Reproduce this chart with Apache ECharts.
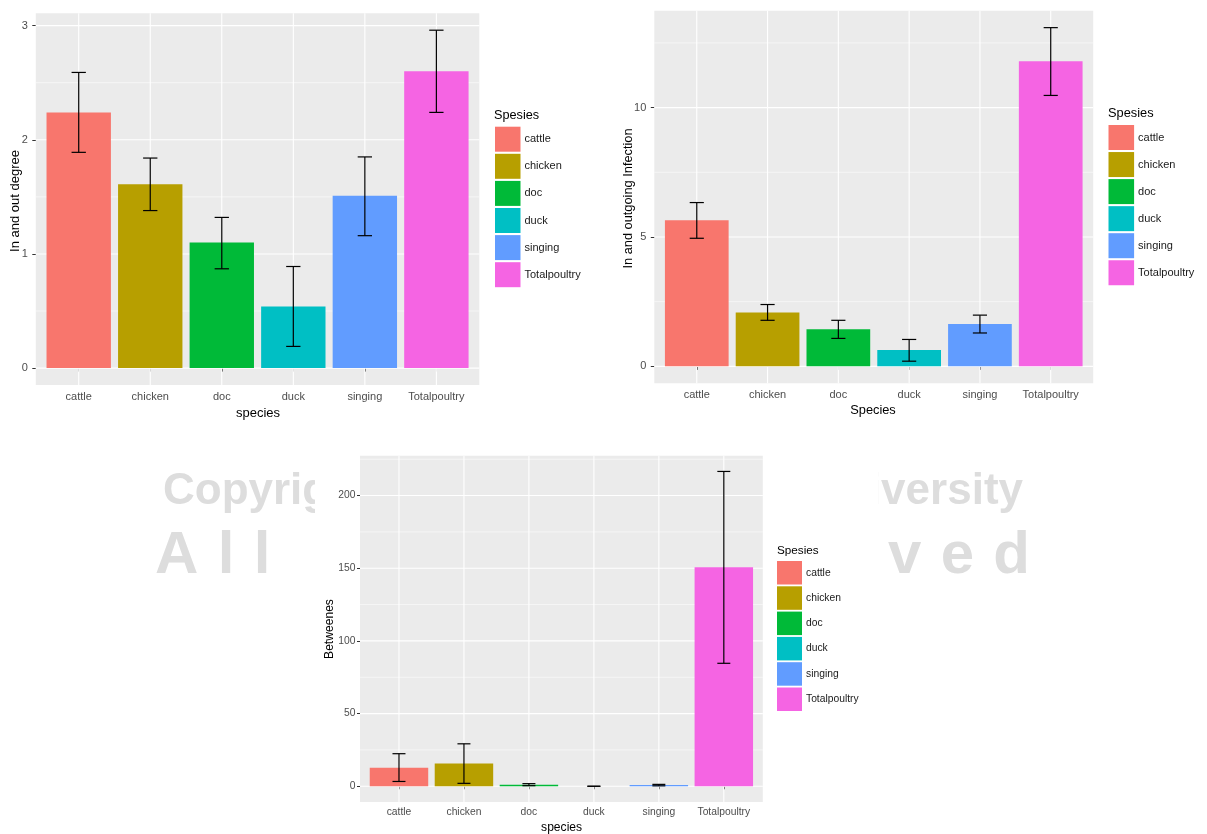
<!DOCTYPE html>
<html>
<head>
<meta charset="utf-8">
<script src="https://cdn.jsdelivr.net/npm/echarts@6/dist/echarts.min.js"></script>
<style>
  html, body { margin: 0; padding: 0; background: #ffffff; }
  #c { width: 1207px; height: 834px; }
</style>
</head>
<body>
<div id="c"></div>
<script>
// Species shared by all three panels, with the default ggplot hue palette
const species = ['cattle', 'chicken', 'doc', 'duck', 'singing', 'Totalpoultry'];
const speciesColors = ['#F8766D', '#B79F00', '#00BA38', '#00BFC4', '#619CFF', '#F564E3'];

// Panel 1: in and out degree (mean with error range)
const degreeMean = [2.24, 1.61, 1.10, 0.54, 1.51, 2.60];
const degreeLow  = [1.89, 1.38, 0.87, 0.19, 1.16, 2.24];
const degreeHigh = [2.59, 1.84, 1.32, 0.89, 1.85, 2.96];
const degreeTicks = [0, 1, 2, 3];

// Panel 2: in and outgoing infection
const infectionMean = [5.65, 2.08, 1.43, 0.63, 1.64, 11.79];
const infectionLow  = [4.95, 1.78, 1.08, 0.20, 1.29, 10.47];
const infectionHigh = [6.33, 2.39, 1.78, 1.04, 1.98, 13.09];
const infectionTicks = [0, 5, 10];

// Panel 3: betweenness
const betweenMean = [12.8, 15.6, 1.1, 0, 0.8, 150.6];
const betweenLow  = [3.3, 2.0, 0.4, 0, 0.3, 84.6];
const betweenHigh = [22.4, 29.2, 1.8, 0, 1.3, 216.6];
const betweenTicks = [0, 50, 100, 150, 200];

const FONT = '"Liberation Sans", Arial, sans-serif';
const xPositions = species.map((_, i) => i + 1);
const X_MIN = 0.4, X_MAX = 6.6;     // discrete scale with 0.6 padding on each side
const BAR_HALF = 0.45;              // bar width 0.9
const CAP_HALF = 0.1;               // error bar cap width 0.2

const panels = [
  {
    mean: degreeMean, low: degreeLow, high: degreeHigh, ticks: degreeTicks,
    yTitle: 'In and out degree', xTitle: 'species',
    grid: { left: 35.8, top: 13.3, width: 443.5, height: 371.7 },
    yTitleAt: [15, 201], xTitleAt: [258, 413], titleSize: 13, tickSize: 11,
    legendAt: [495, 126.7], keyW: 25.5, keyH: 25, keyGap: 2.1,
    legendTitleAt: [494, 115], legendTitleSize: 12.7, legendSize: 11,
    tickLen: 3.5, yLabelMargin: 8, xLabelMargin: 6
  },
  {
    mean: infectionMean, low: infectionLow, high: infectionHigh, ticks: infectionTicks,
    yTitle: 'In and outgoing Infection', xTitle: 'Species',
    grid: { left: 654.3, top: 10.7, width: 438.9, height: 372.6 },
    yTitleAt: [628.3, 198.5], xTitleAt: [873, 410.7], titleSize: 12.8, tickSize: 11,
    legendAt: [1108.5, 125], keyW: 25.6, keyH: 25, keyGap: 2.05,
    legendTitleAt: [1108, 113], legendTitleSize: 12.8, legendSize: 11,
    tickLen: 3.5, yLabelMargin: 8, xLabelMargin: 6
  },
  {
    mean: betweenMean, low: betweenLow, high: betweenHigh, ticks: betweenTicks,
    yTitle: 'Betweenes', xTitle: 'species',
    grid: { left: 360, top: 455.7, width: 402.8, height: 346.3 },
    yTitleAt: [330, 629], xTitleAt: [561.6, 827.7], titleSize: 12.1, tickSize: 10.3,
    legendAt: [777, 561], keyW: 25, keyH: 23.5, keyGap: 1.8,
    legendTitleAt: [777, 550.5], legendTitleSize: 11.7, legendSize: 10.3,
    tickLen: 3, yLabelMargin: 4.5, xLabelMargin: 5.5
  }
];

const grids = [], xAxes = [], yAxes = [], series = [], legends = [], texts = [];

panels.forEach((p, pi) => {
  // y range: data from 0 up to the highest error bar, expanded by 5% each way
  const top = Math.max(...p.high);
  const pad = 0.05 * top;
  const yMin = -pad, yMax = top + pad;
  const step = p.ticks[1] - p.ticks[0];
  const minor = p.ticks.map(t => t + step / 2).filter(v => v < yMax);

  grids.push(Object.assign({ show: true, backgroundColor: '#EBEBEB', borderWidth: 0 }, p.grid));

  xAxes.push({
    type: 'value', gridIndex: pi, min: X_MIN, max: X_MAX,
    axisLine: { show: false }, splitLine: { show: false },
    axisTick: { show: true, customValues: xPositions, length: p.tickLen, lineStyle: { color: '#333333', width: 1 } },
    axisLabel: {
      customValues: xPositions, margin: p.xLabelMargin,
      formatter: v => species[Math.round(v) - 1],
      color: '#4D4D4D', fontSize: p.tickSize, fontFamily: FONT
    }
  });

  yAxes.push({
    type: 'value', gridIndex: pi, min: yMin, max: yMax,
    axisLine: { show: false }, splitLine: { show: false },
    axisTick: { show: true, customValues: p.ticks, length: p.tickLen, lineStyle: { color: '#333333', width: 1 } },
    axisLabel: { customValues: p.ticks, margin: p.yLabelMargin, color: '#4D4D4D', fontSize: p.tickSize, fontFamily: FONT }
  });

  // panel grid lines: 0 = major horizontal, 1 = minor horizontal, 2 = vertical at each species
  const lines = [
    ...p.ticks.map(v => [0, v]),
    ...minor.map(v => [1, v]),
    ...xPositions.map(x => [2, x])
  ];
  series.push({
    type: 'custom', name: 'gridlines-' + pi, xAxisIndex: pi, yAxisIndex: pi, z: 1, silent: true,
    data: lines,
    renderItem(params, api) {
      const kind = api.value(0), v = api.value(1);
      const cs = params.coordSys;
      if (kind === 2) {
        const x = api.coord([v, 0])[0];
        return { type: 'line', shape: { x1: x, y1: cs.y, x2: x, y2: cs.y + cs.height },
                 style: { stroke: '#FFFFFF', lineWidth: 1.1 } };
      }
      const y = api.coord([1, v])[1];
      return { type: 'line', shape: { x1: cs.x, y1: y, x2: cs.x + cs.width, y2: y },
               style: { stroke: '#FFFFFF', lineWidth: kind === 0 ? 1.1 : 0.55 } };
    }
  });

  // one bar series per species so the legend can list them
  species.forEach((name, j) => {
    series.push({
      type: 'custom', name, xAxisIndex: pi, yAxisIndex: pi, z: 2,
      itemStyle: { color: speciesColors[j] },
      data: [[xPositions[j], p.mean[j]]],
      renderItem(params, api) {
        const x = api.value(0), v = api.value(1);
        const a = api.coord([x - BAR_HALF, v]);
        const b = api.coord([x + BAR_HALF, 0]);
        return { type: 'rect',
                 shape: { x: a[0], y: Math.min(a[1], b[1]), width: b[0] - a[0], height: Math.abs(b[1] - a[1]) },
                 style: { fill: api.visual('color') } };
      }
    });
  });

  // error bars
  series.push({
    type: 'custom', name: 'errorbars-' + pi, xAxisIndex: pi, yAxisIndex: pi, z: 3, silent: true,
    data: species.map((_, j) => [xPositions[j], p.low[j], p.high[j]]),
    renderItem(params, api) {
      const x = api.value(0);
      const lo = api.coord([x, api.value(1)]);
      const hi = api.coord([x, api.value(2)]);
      const l = api.coord([x - CAP_HALF, 0])[0];
      const r = api.coord([x + CAP_HALF, 0])[0];
      const st = { stroke: '#000000', lineWidth: 1.2 };
      return { type: 'group', children: [
        { type: 'line', shape: { x1: lo[0], y1: lo[1], x2: hi[0], y2: hi[1] }, style: st },
        { type: 'line', shape: { x1: l, y1: hi[1], x2: r, y2: hi[1] }, style: st },
        { type: 'line', shape: { x1: l, y1: lo[1], x2: r, y2: lo[1] }, style: st }
      ] };
    }
  });

  legends.push({
    orient: 'vertical', left: p.legendAt[0], top: p.legendAt[1], padding: 0,
    itemWidth: p.keyW, itemHeight: p.keyH, itemGap: p.keyGap, icon: 'rect',
    selectedMode: false, data: species,
    textStyle: { fontSize: p.legendSize, color: '#1A1A1A', fontFamily: FONT, padding: [0, 0, 0, -1] }
  });

  texts.push(
    { type: 'text', x: p.yTitleAt[0], y: p.yTitleAt[1], rotation: Math.PI / 2, z: 5,
      style: { text: p.yTitle, font: p.titleSize + 'px ' + FONT, fill: '#000000',
               align: 'center', verticalAlign: 'middle', textAlign: 'center', textVerticalAlign: 'middle' } },
    { type: 'text', x: p.xTitleAt[0], y: p.xTitleAt[1], z: 5,
      style: { text: p.xTitle, font: p.titleSize + 'px ' + FONT, fill: '#000000',
               align: 'center', verticalAlign: 'middle', textAlign: 'center', textVerticalAlign: 'middle' } },
    { type: 'text', x: p.legendTitleAt[0], y: p.legendTitleAt[1], z: 5,
      style: { text: 'Spesies', font: p.legendTitleSize + 'px ' + FONT, fill: '#000000',
               align: 'left', verticalAlign: 'middle', textAlign: 'left', textVerticalAlign: 'middle' } }
  );
});

// page watermark behind the panels
const WM_COLOR = '#DDDDDD';
const wmFont1 = 'bold 44px ' + FONT;
const wmFont2 = 'bold 60px ' + FONT;
const watermark = [
  { type: 'text', x: 163, y: 492, z: -2, silent: true,
    style: { text: 'Copyright\u00A9 by Chiang Mai', font: wmFont1, fill: WM_COLOR,
             align: 'left', verticalAlign: 'middle', textAlign: 'left', textVerticalAlign: 'middle' } },
  { type: 'text', x: 1023, y: 492, z: -2, silent: true,
    style: { text: 'University', font: wmFont1, fill: WM_COLOR,
             align: 'right', verticalAlign: 'middle', textAlign: 'right', textVerticalAlign: 'middle' } }
];
// second line is letter-spaced across a fixed span
const rights = 'All rights reserved';
const measure = document.createElement('canvas').getContext('2d');
measure.font = wmFont2;
const charW = rights.split('').map(ch => measure.measureText(ch).width);
const spanLeft = 155, spanRight = 1030;
const tracking = (spanRight - spanLeft - charW.reduce((s, w) => s + w, 0)) / (rights.length - 1);
let cursor = spanLeft;
rights.split('').forEach((ch, i) => {
  if (ch !== ' ') {
    watermark.push({ type: 'text', x: cursor, y: 556, z: -2, silent: true,
      style: { text: ch, font: wmFont2, fill: WM_COLOR,
               align: 'left', verticalAlign: 'middle', textAlign: 'left', textVerticalAlign: 'middle' } });
  }
  cursor += charW[i] + tracking;
});
// white backing of the lower figure
watermark.push({ type: 'rect', z: -1, silent: true,
  shape: { x: 315, y: 450, width: 563, height: 384 }, style: { fill: '#FFFFFF' } });

const chart = echarts.init(document.getElementById('c'));
chart.setOption({
  animation: false,
  backgroundColor: '#FFFFFF',
  textStyle: { fontFamily: FONT },
  grid: grids,
  xAxis: xAxes,
  yAxis: yAxes,
  legend: legends,
  series: series,
  graphic: { elements: watermark.concat(texts) }
});
</script>
</body>
</html>
